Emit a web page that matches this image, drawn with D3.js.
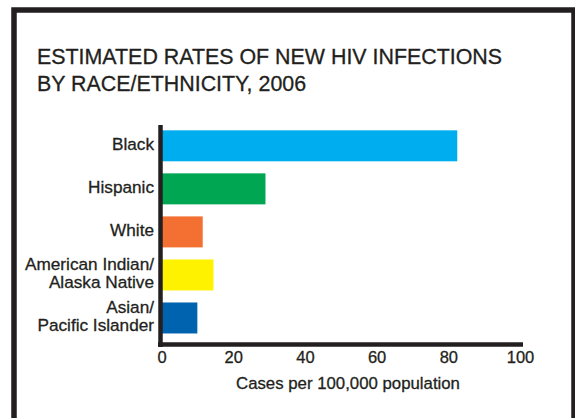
<!DOCTYPE html>
<html lang="en">
<head>
    <meta charset="UTF-8">
    <title>Estimated rates of new HIV infections</title>
    <style type="text/css">
        * {
            margin: 0;
            padding: 0;
        }
        body {
            background: white;
        }
        text {
            font-family: "Liberation Sans", Arial, Helvetica, sans-serif;
            fill: #231f20;
            stroke: #231f20;
            stroke-width: 0.3px;
        }
    </style>
</head>
<body>
<div id="chart-area"></div>
<script src="https://cdn.jsdelivr.net/npm/d3@7"></script>
<script type="text/javascript">
    const groups = ['Black', 'Hispanic', 'White', 'American Indian/\nAlaska Native', 'Asian/\nPacific Islander']
    const rates = [82.5, 29, 11.5, 14.5, 10]
    const colors = ['#00aeef', '#00a651', '#f37032', '#fff200', '#0063b0']
    const ticks = [0, 20, 40, 60, 80, 100]
    const titleLines = ['ESTIMATED RATES OF NEW HIV INFECTIONS', 'BY RACE/ETHNICITY, 2006']
    const xLabel = 'Cases per 100,000 population'

    const width = 575
    const height = 418
    const ink = '#231f20'

    const svg = d3.select('#chart-area').append('svg')
    .attr('width', width)
    .attr('height', height)
    .style('display', 'block')

    // outer frame, runs off the bottom of the picture
    svg.append('rect')
    .attr('x', 14)
    .attr('y', 10)
    .attr('width', 560)
    .attr('height', 500)
    .attr('fill', 'none')
    .attr('stroke', ink)
    .attr('stroke-width', 5.5)

    svg.append('g').selectAll('text').data(titleLines)
    .enter().append('text')
    .attr('x', 37)
    .attr('y', (d, i) => 64 + i * 26.7)
    .style('font-size', '21.4px')
    .text(d => d)

    const x = d3.scaleLinear()
    .domain([0, 100])
    .range([161.5, 520])

    const y = d3.scaleBand()
    .domain(groups)
    .range([124.3, 339.5])
    .paddingInner(0.28)
    .paddingOuter(0.14)

    svg.append('g').selectAll('rect').data(rates)
    .enter().append('rect')
    .attr('x', x(0))
    .attr('y', (d, i) => y(groups[i]))
    .attr('width', d => x(d) - x(0))
    .attr('height', y.bandwidth())
    .attr('fill', (d, i) => colors[i])

    // category labels, right aligned, multi-line
    const labels = svg.append('g').selectAll('text').data(groups)
    .enter().append('text')
    .attr('text-anchor', 'end')
    .style('font-size', '17.2px')
    .attr('transform', d => `translate(154,${y(d) + y.bandwidth() / 2})`)
    labels.each(function (d) {
      const lines = d.split('\n')
      const t = d3.select(this)
      lines.forEach((line, k) => {
        t.append('tspan')
        .attr('x', 0)
        .attr('y', 3.8 + (k - (lines.length - 1) / 2) * 18.5)
        .text(line)
      })
    })

    // axis lines
    svg.append('line')
    .attr('x1', 160.5).attr('x2', 160.5)
    .attr('y1', 125).attr('y2', 347)
    .attr('stroke', ink)
    .attr('stroke-width', 4.5)
    svg.append('line')
    .attr('x1', 158).attr('x2', 523)
    .attr('y1', 344.5).attr('y2', 344.5)
    .attr('stroke', ink)
    .attr('stroke-width', 4.5)

    const xAxis = svg.append('g')
    .attr('transform', 'translate(0,349)')
    .call(d3.axisBottom(x).tickValues(ticks).tickSize(0).tickPadding(2))
    xAxis.select('.domain').remove()
    xAxis.selectAll('text')
    .style('font-size', '16.5px')
    .style('font-family', '"Liberation Sans", Arial, sans-serif')
    .attr('fill', ink)

    svg.append('text')
    .attr('x', 348)
    .attr('y', 389)
    .attr('text-anchor', 'middle')
    .style('font-size', '16.8px')
    .text(xLabel)
</script>
</body>
</html>
